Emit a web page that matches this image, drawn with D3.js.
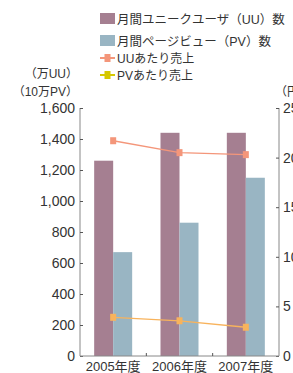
<!DOCTYPE html>
<head>
  <meta charset="utf-8">
  <script src="https://d3js.org/d3.v7.min.js"></script>
  <style>
    body { margin: 0; background: #fff; }
    svg text { font-family: "Liberation Sans", "Noto Sans CJK JP", sans-serif; fill: #333; }
  </style>
</head>
<body>
<div id="chart"></div>
<script>
// data
var years = ["2005年度", "2006年度", "2007年度"];
var uuCount = [1260, 1440, 1440];     // 万UU
var pvCount = [670, 860, 1150];       // 10万PV
var uuSales = [21.7, 20.5, 20.3];     // 円
var pvSales = [3.9, 3.55, 2.9];       // 円
var leftTicks = [0, 200, 400, 600, 800, 1000, 1200, 1400, 1600];
var rightTicks = [0, 5, 10, 15, 20, 25];

var W = 293, H = 373;
var margin = { left: 80, right: 14, top: 108, bottom: 17 };
var x0 = margin.left, x1 = W - margin.right, yBase = H - margin.bottom;

var svg = d3.select("#chart").append("svg").attr("width", W).attr("height", H);

var x = d3.scaleBand().domain(years).range([x0, x1]);
var yL = d3.scaleLinear().domain([0, 1600]).range([yBase, margin.top]);
var yR = d3.scaleLinear().domain([0, 25]).range([yBase, margin.top]);

var barW = 19;
var colUU = "#a57f91", colPV = "#99b5c3";
var colUUline = "#f4967a", colPVline = "#f8b35c";

// bars
svg.selectAll(".uu").data(years).enter().append("rect")
  .attr("x", function (d) { return x(d) + x.bandwidth() / 2 - barW; })
  .attr("y", function (d, i) { return yL(uuCount[i]); })
  .attr("width", barW)
  .attr("height", function (d, i) { return yBase - yL(uuCount[i]); })
  .attr("fill", colUU);
svg.selectAll(".pv").data(years).enter().append("rect")
  .attr("x", function (d) { return x(d) + x.bandwidth() / 2; })
  .attr("y", function (d, i) { return yL(pvCount[i]); })
  .attr("width", barW)
  .attr("height", function (d, i) { return yBase - yL(pvCount[i]); })
  .attr("fill", colPV);

// axes
var axisCol = "#888";
var left = svg.append("g").attr("transform", "translate(" + x0 + ",0)")
  .call(d3.axisRight(yL).tickValues(leftTicks).tickSize(3).tickFormat(""));
var right = svg.append("g").attr("transform", "translate(" + x1 + ",0)")
  .call(d3.axisLeft(yR).tickValues(rightTicks).tickSize(3).tickFormat(""));
[left, right].forEach(function (g) {
  g.select(".domain").attr("stroke", axisCol).attr("d", "M0," + margin.top + "V" + yBase);
  g.selectAll(".tick line").attr("stroke", "#555");
});
svg.append("line").attr("x1", x0).attr("x2", x1).attr("y1", yBase).attr("y2", yBase)
  .attr("stroke", axisCol);
svg.selectAll(".xt").data(years.slice(1)).enter().append("line")
  .attr("x1", function (d) { return x(d); }).attr("x2", function (d) { return x(d); })
  .attr("y1", yBase).attr("y2", yBase - 3).attr("stroke", "#555");

// tick labels
svg.selectAll(".ltl").data(leftTicks).enter().append("text")
  .attr("x", x0 - 5).attr("y", function (d) { return yL(d) + 5; })
  .attr("text-anchor", "end").attr("font-size", 14)
  .text(function (d) { return d3.format(",")(d); });
svg.selectAll(".rtl").data(rightTicks).enter().append("text")
  .attr("x", x1 + 4).attr("y", function (d) { return yR(d) + 5; })
  .attr("font-size", 14)
  .text(function (d) { return d; });
svg.selectAll(".xtl").data(years).enter().append("text")
  .attr("x", function (d) { return x(d) + x.bandwidth() / 2; })
  .attr("y", yBase + 15).attr("text-anchor", "middle").attr("font-size", 13)
  .text(function (d) { return d; });

// axis titles
svg.append("text").attr("x", 78).attr("y", 78).attr("text-anchor", "end").attr("font-size", 12).text("（万UU）");
svg.append("text").attr("x", 78).attr("y", 96).attr("text-anchor", "end").attr("font-size", 12).text("（10万PV）");
svg.append("text").attr("x", 275).attr("y", 96).attr("font-size", 12).text("（円）");

// lines
function drawLine(vals, col) {
  var line = d3.line()
    .x(function (d, i) { return x(years[i]) + x.bandwidth() / 2; })
    .y(function (d) { return yR(d); });
  svg.append("path").datum(vals).attr("d", line).attr("fill", "none")
    .attr("stroke", col).attr("stroke-width", 1.3);
  svg.selectAll(null).data(vals).enter().append("rect")
    .attr("x", function (d, i) { return x(years[i]) + x.bandwidth() / 2 - 3; })
    .attr("y", function (d) { return yR(d) - 3.5; })
    .attr("width", 6).attr("height", 7).attr("fill", col);
}
drawLine(uuSales, colUUline);
drawLine(pvSales, colPVline);

// legend
var legendBars = [
  { label: "月間ユニークユーザ（UU）数", color: colUU },
  { label: "月間ページビュー（PV）数", color: colPV }
];
var legendLines = [
  { label: "UUあたり売上", color: colUUline },
  { label: "PVあたり売上", color: "#d6c800" }
];
legendBars.forEach(function (d, i) {
  var yy = 13 + i * 22;
  svg.append("rect").attr("x", 100).attr("y", yy).attr("width", 15).attr("height", 11).attr("fill", d.color);
  svg.append("text").attr("x", 117).attr("y", yy + 10.5).attr("font-size", 12.5).text(d.label);
});
legendLines.forEach(function (d, i) {
  var yy = 58 + i * 17;
  svg.append("line").attr("x1", 100).attr("x2", 115).attr("y1", yy).attr("y2", yy)
    .attr("stroke", d.color).attr("stroke-width", 2);
  svg.append("rect").attr("x", 104.5).attr("y", yy - 4).attr("width", 6).attr("height", 8).attr("fill", d.color);
  svg.append("text").attr("x", 117).attr("y", yy + 4.5).attr("font-size", 12).text(d.label);
});
</script>
</body>
</html>
